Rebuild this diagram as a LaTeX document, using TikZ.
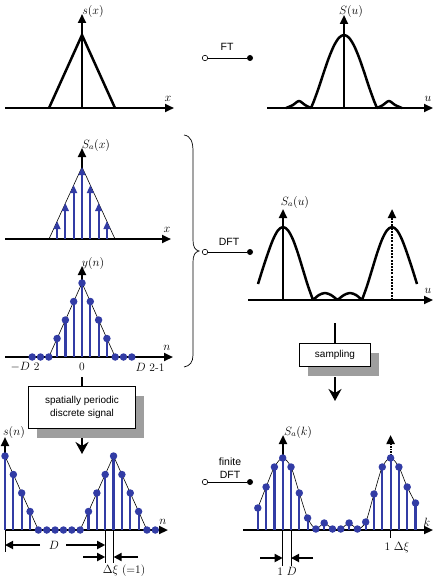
\documentclass[tikz,border=0pt]{standalone}
\usepackage{fontspec}
\setsansfont{Liberation Sans}
\usetikzlibrary{arrows.meta,positioning,shadows}
\definecolor{stemblue}{RGB}{50,60,165}
\definecolor{shadowgray}{RGB}{158,158,158}
\tikzset{
  axis/.style={line width=2.2pt,-{Triangle[length=9pt,width=8pt]}},
  curve/.style={line width=2.5pt,line join=round},
  thincurve/.style={line width=0.6pt},
  stem/.style={stemblue,line width=2.2pt},
  sample/.style={circle,fill=stemblue,inner sep=0pt,minimum size=7.5pt},
  impulse/.style={stemblue,line width=2pt,-{Triangle[length=8pt,width=6.5pt]}},
  lbl/.style={font=\fontsize{11.5}{13}\selectfont,inner sep=0pt},
  sflbl/.style={font=\sffamily\fontsize{10.5}{12.5}\selectfont,inner sep=0pt,align=center},
  port/.style={circle,draw,fill=white,inner sep=0pt,minimum size=5.5pt,line width=0.6pt},
  pin/.style={circle,fill=black,inner sep=0pt,minimum size=6pt},
  wire/.style={line width=0.7pt},
  blockbox/.style={draw,fill=white,line width=0.7pt,inner sep=0pt,align=center,
    font=\sffamily\fontsize{10}{13}\selectfont,
    drop shadow={shadow xshift=8pt,shadow yshift=-10pt,fill=shadowgray,opacity=1}},
  flow/.style={line width=2.5pt,-{Stealth[length=12pt,width=13pt,inset=4pt]}},
  dim/.style={line width=1.8pt,-{Triangle[length=8pt,width=8pt]}},
  ext/.style={line width=0.7pt},
}
\begin{document}
\begin{tikzpicture}[x=1pt,y=-1pt]
\useasboundingbox (0,0) rectangle (434,578);

% s(x) --FT--> S(u)
\draw[axis] (5,108) -- (174,108);
\draw[axis] (82,108) -- (82,14);
\draw[curve] (49,108) -- (82,35) -- (115,108);
\node[lbl] (sxlab) at (93,12) {$s(x)$};
\node[lbl] (xlab) at (168,99) {$x$};

\node[port] (ftin) at (205,58) {};
\node[pin] (ftout) at (250,58) {};
\draw[wire] (ftin) -- (ftout);
\node[sflbl] (ftlab) at (227,47) {FT};

\draw[axis] (267,108) -- (433,108);
\draw[axis] (344,108) -- (344,15);
\draw[curve] plot[smooth] coordinates {(286,108) (293,105) (299,101) (305,105) (311,108)}
  plot[smooth] coordinates {(311,108) (314,100.8) (319,86.9) (324,71.7) (329,57.4) (334,45.6)
  (339,37.7) (344,35) (349,37.7) (354,45.6) (359,57.4) (364,71.7) (369,86.9) (374,100.8) (377,108)}
  plot[smooth] coordinates {(377,108) (383,105) (389,101) (395,105) (402,108)};
\node[lbl] (sulab) at (351,12) {$S(u)$};
\node[lbl] (ulab) at (428,99) {$u$};

% sampled s(x)
\draw[axis] (5,239) -- (171,239);
\draw[axis] (82,239) -- (82,148);
\draw[thincurve] (49,239) -- (82,167) -- (115,239);
\foreach \k/\h in {-3/18,-2/36,-1/54,0/72,1/54,2/36,3/18}
  \draw[impulse] ({82+8.3*\k},239) -- ({82+8.3*\k},{239-\h});
\node[lbl] (saxlab) at (96,145) {$S_a(x)$};
\node[lbl] (xalab) at (167,230) {$x$};

% y(n)
\draw[axis] (5,357) -- (173,357);
\draw[axis] (82,357) -- (82,266);
\foreach \k/\h in {-6/0,-5/0,-4/0,-3/18.5,-2/37,-1/55.5,0/74,1/55.5,2/37,3/18.5,4/0,5/0,6/0} {
  \coordinate (yn\k) at ({82+8.3*\k},{357-\h});
  \draw[stem] ({82+8.3*\k},357) -- (yn\k);
}
\draw[thincurve] (yn-4) -- (yn0) -- (yn4);
\foreach \k in {-6,...,6}
  \node[sample] (ynd\k) at (yn\k) {};
\node[lbl] (ynlab) at (93,263) {$y(n)$};
\node[lbl] (nlab) at (167,348) {$n$};
\node[lbl] (lowlab) at (25,367) {$-D$ 2};
\node[lbl] (zerolab) at (82,367) {0};
\node[lbl] (uplab) at (150,367) {$D$ 2-1};

% brace and DFT
\draw[line width=0.7pt] (184,135) .. controls (191,136) and (193,142) .. (193,152) -- (193,240)
  .. controls (193,247) and (195,250) .. (199,251) .. controls (195,252) and (193,255) .. (193,262)
  -- (193,355) .. controls (193,362) and (190,366) .. (184,367);
\node[port] (dftin) at (205,252) {};
\node[pin] (dftout) at (250,252) {};
\draw[wire] (dftin) -- (dftout);
\node[sflbl] (dftlab) at (229,242) {DFT};

% Sa(u)
\draw[axis] (248,300) -- (433,300);
\draw[axis] (283,300) -- (283,209);
\draw[axis,dash pattern=on 2pt off 1.2pt] (392,300) -- (392,209);
\draw[curve] plot[smooth] coordinates {(258,284) (263,268) (268,253) (273,239.6) (278,230.3) (283,227)
  (288,230.3) (293,239.6) (298,253.5) (303,269.8) (308,286) (313,300)}
  plot[smooth] coordinates {(313,300) (319,295) (325,293) (331,295) (337.5,300)}
  plot[smooth] coordinates {(337.5,300) (344,295) (350,293) (356,295) (362,300)}
  plot[smooth] coordinates {(362,300) (367,286) (372,269.8) (377,253.5) (382,239.6) (387,230.3)
  (392,227) (397,230.3) (402,239.6) (407,253) (412,268) (417,284)};
\node[lbl] (saulab) at (295,202) {$S_a(u)$};
\node[lbl] (ualab) at (428,291) {$u$};

% sampling block
\coordinate (sampin) at (335,323);
\node[blockbox,minimum width=71pt,minimum height=23pt] (samp) at (335,354.5) {sampling};
\draw[line width=2.5pt] (sampin) -- (samp.north);
\coordinate (sampout) at (335,401);
\draw[flow] ([yshift=-11pt]samp.south) -- (sampout);

% spatially periodic block
\coordinate (sigin) at (82,377);
\node[blockbox,minimum width=107pt,minimum height=42pt] (sig) at (82,407)
  {spatially periodic\\discrete signal};
\draw[line width=2.5pt] (sigin) -- (sig.north);
\coordinate (sigout) at (82,454);
\draw[flow] ([yshift=-10pt]sig.south) -- (sigout);

% s(n)
\draw[axis] (5,530) -- (168,530);
\draw[axis] (5,530) -- (5,437);
\foreach \k/\h in {0/74,1/55.5,2/37,3/18.5,4/0,5/0,6/0,7/0,8/0,9/0,10/18.5,11/37,12/55.5,
    13/74,14/55.5,15/37,16/18.5,17/0,18/0} {
  \coordinate (sn\k) at ({5+8.35*\k},{530-\h});
  \draw[stem] ({5+8.35*\k},530) -- (sn\k);
}
\draw[thincurve] (sn0) -- (sn4) (sn9) -- (sn13) -- (sn17);
\foreach \k in {0,...,18}
  \node[sample] (snd\k) at (sn\k) {};
\node[lbl] (snlab) at (14,432) {$s(n)$};
\node[lbl] (n2lab) at (163,522) {$n$};
\draw[ext] (5,530) -- (5,552);
\draw[ext] (105.2,530) -- (105.2,563);
\draw[ext] (113.6,530) -- (113.6,563);
\coordinate (dl) at (5,545);
\coordinate (dr) at (105.2,545);
\coordinate (da) at (40,545);
\coordinate (db) at (66,545);
\node[lbl] (dlab) at (54,545) {$D$};
\draw[dim] (da) -- (dl);
\draw[dim] (db) -- (dr);
\coordinate (xia) at (83,557);
\coordinate (xib) at (138,557);
\draw[dim] (xia) -- (105.2,557);
\draw[dim] (xib) -- (113.6,557);
\node[lbl] (xilab) at (124,571) {$\Delta\xi$ (=1)};

% Sa(k)
\node[sflbl] (fdftlab) at (230,468) {finite\\DFT};
\node[port] (fdftin) at (205,482) {};
\node[pin] (fdftout) at (250,482) {};
\draw[wire] (fdftin) -- (fdftout);

\draw[axis] (243,530) -- (433,530);
\draw[axis] (283,530) -- (283,435);
\draw[axis,dash pattern=on 1.5pt off 1pt] (390.6,530) -- (390.6,435);
\foreach \j/\h in {-3/22,-2/43,-1/63,0/72,1/63,2/37,3/12,4/1,5/7,6/1,7/1,8/7,9/1,10/8,
    11/36,12/63,13/72,14/63,15/43,16/27} {
  \coordinate (sk\j) at ({282.7+8.3*\j},{530-\h});
  \draw[stem] ({282.7+8.3*\j},530) -- (sk\j);
}
\draw[thincurve] plot[smooth] coordinates {(sk-3) (sk-2) (sk-1) (sk0) (sk1) (sk2) (sk3) (sk4)
  (sk5) (sk6) (sk7) (sk8) (sk9) (sk10) (sk11) (sk12) (sk13) (sk14) (sk15) (sk16)};
\foreach \j in {-3,...,16}
  \node[sample] (skd\j) at (sk\j) {};
\node[lbl] (sakl) at (298,432) {$S_a(k)$};
\node[lbl] (klab) at (427,522) {$k$};
\draw[ext] (282.7,530) -- (282.7,566);
\draw[ext] (291,530) -- (291,566);
\coordinate (ka) at (260,558);
\coordinate (kb) at (313,558);
\draw[dim] (ka) -- (282.7,558);
\draw[dim] (kb) -- (291,558);
\node[lbl] (invd) at (287,571) {1 $D$};
\draw[ext] (390.6,530) -- (390.6,538);
\node[lbl] (invxi) at (397,547) {1 $\Delta\xi$};
\end{tikzpicture}
\end{document}
